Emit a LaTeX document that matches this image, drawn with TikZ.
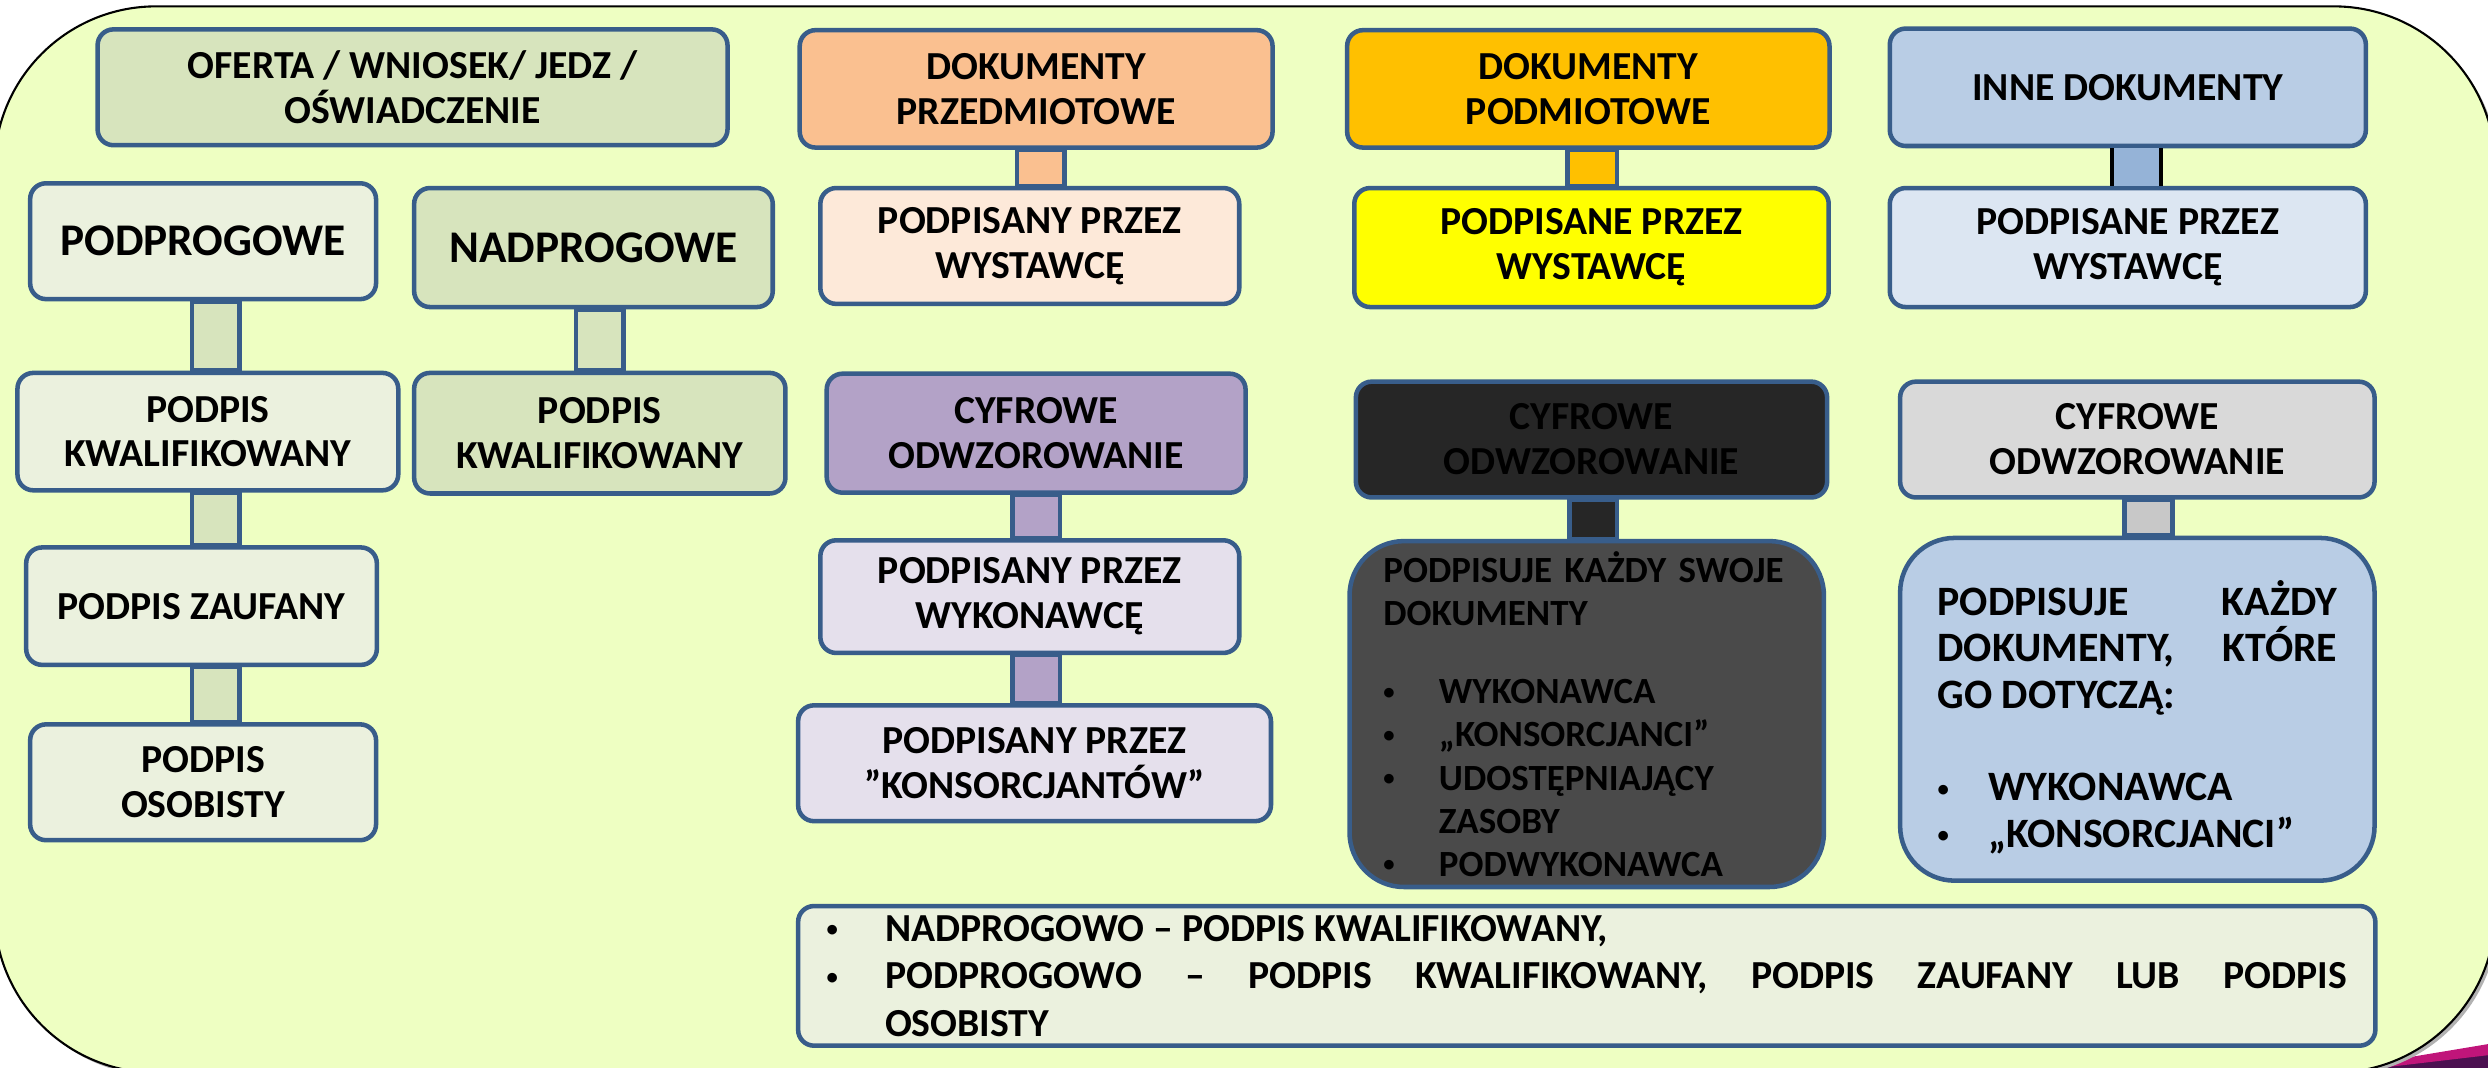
\documentclass[tikz,border=0pt]{standalone}
\usepackage{fontspec}
\setmainfont{Carlito}
\definecolor{bgfill}{HTML}{EEFFC2}
\definecolor{bord}{HTML}{385D8A}
\definecolor{olive}{HTML}{D7E4BD}
\definecolor{lolive}{HTML}{EBF1DE}
\definecolor{peach}{HTML}{FAC090}
\definecolor{lpeach}{HTML}{FDE9D9}
\definecolor{purp}{HTML}{B3A2C7}
\definecolor{lpurp}{HTML}{E5E0EC}
\definecolor{amber}{HTML}{FFC000}
\definecolor{yell}{HTML}{FFFF00}
\definecolor{blk}{HTML}{262626}
\definecolor{dgray}{HTML}{4A4A4A}
\definecolor{sky}{HTML}{B9CDE5}
\definecolor{lsky}{HTML}{DCE6F2}
\definecolor{msky}{HTML}{95B3D7}
\definecolor{lgray}{HTML}{D9D9D9}
\definecolor{mgray}{HTML}{C8C8C8}
\definecolor{swoosh}{HTML}{C0157A}
\definecolor{swdark}{HTML}{4B1050}
\newcommand{\punkt}[1][5.6mm]{\makebox[#1][l]{\raisebox{1.3pt}{\fontsize{6.5}{6.5}\selectfont\textbullet}}}

\begin{document}
\begin{tikzpicture}[x=0.16mm,y=-0.16mm,
  box/.style={draw=bord,line width=1.3pt,rounded corners=1.6mm,align=center,inner sep=1pt,
    font=\bfseries\fontsize{11.4}{12.9}\selectfont},
  big/.style={font=\bfseries\fontsize{13}{14}\selectfont},
  wh/.style 2 args={minimum width=#1*0.16mm,minimum height=#2*0.16mm},
  bar/.style={draw=bord,line width=1.3pt}]
  \useasboundingbox (0,0) rectangle (1568,673);
  % background
  \fill[swdark] (1478,673) -- (1568,664) -- (1568,673) -- cycle;
  \fill[swoosh] (1478,673) -- (1568,658) -- (1568,665) -- (1500,673) -- cycle;
  \fill[black!30,rounded corners=16.3mm] (-1.5,6) rectangle (1574.7,678);
  \draw[fill=bgfill,line width=0.6pt,rounded corners=16.3mm] (-3.5,4) rectangle (1572.7,676);
  % column 1
  \node[box,wh={397}{73},fill=olive] (oferta) at (260,55) {OFERTA / WNIOSEK/ JEDZ /\\OŚWIADCZENIE};
  \node[box,big,wh={218}{73},fill=lolive] (podpr) at (128,152) {PODPROGOWE};
  \node[box,big,wh={226}{75},fill=olive] (nadpr) at (374,156) {NADPROGOWE};
  \node[box,wh={240}{74},fill=lolive] (kwal1) at (131,272) {PODPIS\\KWALIFIKOWANY};
  \node[box,wh={234}{76},fill=olive] (kwal2) at (378,273) {PODPIS\\KWALIFIKOWANY};
  \node[box,wh={221}{74},fill=lolive] (zauf) at (127,382) {PODPIS ZAUFANY};
  \node[box,wh={218}{73},fill=lolive] (osob) at (128,493) {PODPIS\\OSOBISTY};
  % column 2
  \node[box,wh={298}{74},fill=peach] (przed) at (653,56) {DOKUMENTY\\PRZEDMIOTOWE};
  \node[box,wh={264}{73},fill=lpeach] (wyst1) at (649,155) {PODPISANY PRZEZ\\WYSTAWCĘ};
  \node[box,wh={264}{75},fill=purp] (cyfr1) at (653,273) {CYFROWE\\ODWZOROWANIE};
  \node[box,wh={264}{71},fill=lpurp] (wyk) at (649,376) {PODPISANY PRZEZ\\WYKONAWCĘ};
  \node[box,wh={298}{73},fill=lpurp] (kons) at (652,481) {PODPISANY PRZEZ\\”KONSORCJANTÓW”};
  % column 3
  \node[box,wh={304}{74},fill=amber] (podm) at (1001,56) {DOKUMENTY\\PODMIOTOWE};
  \node[box,wh={299}{75},fill=yell] (wyst2) at (1003,156) {PODPISANE PRZEZ\\WYSTAWCĘ};
  \node[box,wh={297}{73},fill=blk] (cyfr2) at (1003,277) {CYFROWE\\ODWZOROWANIE};
  \node[box,wh={299}{218},fill=dgray,rounded corners=5.5mm,text width=41mm,align=left,
    font=\bfseries\fontsize{10.6}{12.4}\selectfont] (swoje) at (1000,450)
    {PODPISUJE KAŻDY SWOJE\\DOKUMENTY\\[10pt]
     \punkt WYKONAWCA\\\punkt „KONSORCJANCI”\\\punkt UDOSTĘPNIAJĄCY\\
     \hspace*{5.6mm}ZASOBY\\\punkt PODWYKONAWCA};
  % column 4
  \node[box,wh={300}{74},fill=sky] (inne) at (1341,55) {INNE DOKUMENTY};
  \node[box,wh={300}{75},fill=lsky] (wyst3) at (1341,156) {PODPISANE PRZEZ\\WYSTAWCĘ};
  \node[box,wh={299}{73},fill=lgray] (cyfr3) at (1347,277) {CYFROWE\\ODWZOROWANIE};
  \node[box,wh={299}{216},fill=sky,rounded corners=5.5mm,text width=40.3mm,align=justify,
    font=\bfseries\fontsize{12}{13.4}\selectfont] (dotycz) at (1347,447)
    {\rule{0pt}{14.5pt}PODPISUJE KAŻDY\linebreak DOKUMENTY, KTÓRE\linebreak GO DOTYCZĄ:\\[13pt]
     \punkt[5.1mm]WYKONAWCA\\\punkt[5.1mm]„KONSORCJANCI”};
  % bottom note
  \node[box,wh={994}{88},fill=lolive,text width=153.3mm,align=justify,
    font=\bfseries\fontsize{11.4}{13.7}\selectfont] (uwaga) at (1000,615)
    {\parindent=0pt\punkt[5.9mm]NADPROGOWO – PODPIS KWALIFIKOWANY,\par
     \hangindent=5.9mm\hangafter=1\punkt[5.9mm]PODPROGOWO – PODPIS KWALIFIKOWANY, PODPIS ZAUFANY LUB PODPIS\linebreak OSOBISTY\par};
  % bars
  \draw[bar,fill=olive] (121,0 |- podpr.south) rectangle (151,0 |- kwal1.north);
  \draw[bar,fill=olive] (121,0 |- kwal1.south) rectangle (151,0 |- zauf.north);
  \draw[bar,fill=olive] (121,0 |- zauf.south) rectangle (151,0 |- osob.north);
  \draw[bar,fill=olive] (363,0 |- nadpr.south) rectangle (393,0 |- kwal2.north);
  \draw[bar,fill=peach] (641,0 |- przed.south) rectangle (671,0 |- wyst1.north);
  \draw[bar,fill=purp] (638,0 |- cyfr1.south) rectangle (668,0 |- wyk.north);
  \draw[bar,fill=purp] (638,0 |- wyk.south) rectangle (668,0 |- kons.north);
  \draw[bar,fill=amber] (988,0 |- podm.south) rectangle (1019,0 |- wyst2.north);
  \draw[bar,fill=blk] (989,0 |- cyfr2.south) rectangle (1019,0 |- swoje.north);
  \fill[msky] (1330,0 |- inne.south) rectangle (1363,0 |- wyst3.north);
  \draw[line width=1.3pt] (1331,0 |- inne.south) -- (1331,0 |- wyst3.north)
    (1362,0 |- inne.south) -- (1362,0 |- wyst3.north);
  \draw[bar,fill=mgray] (1339,0 |- cyfr3.south) rectangle (1369,0 |- dotycz.north);
\end{tikzpicture}
\end{document}
